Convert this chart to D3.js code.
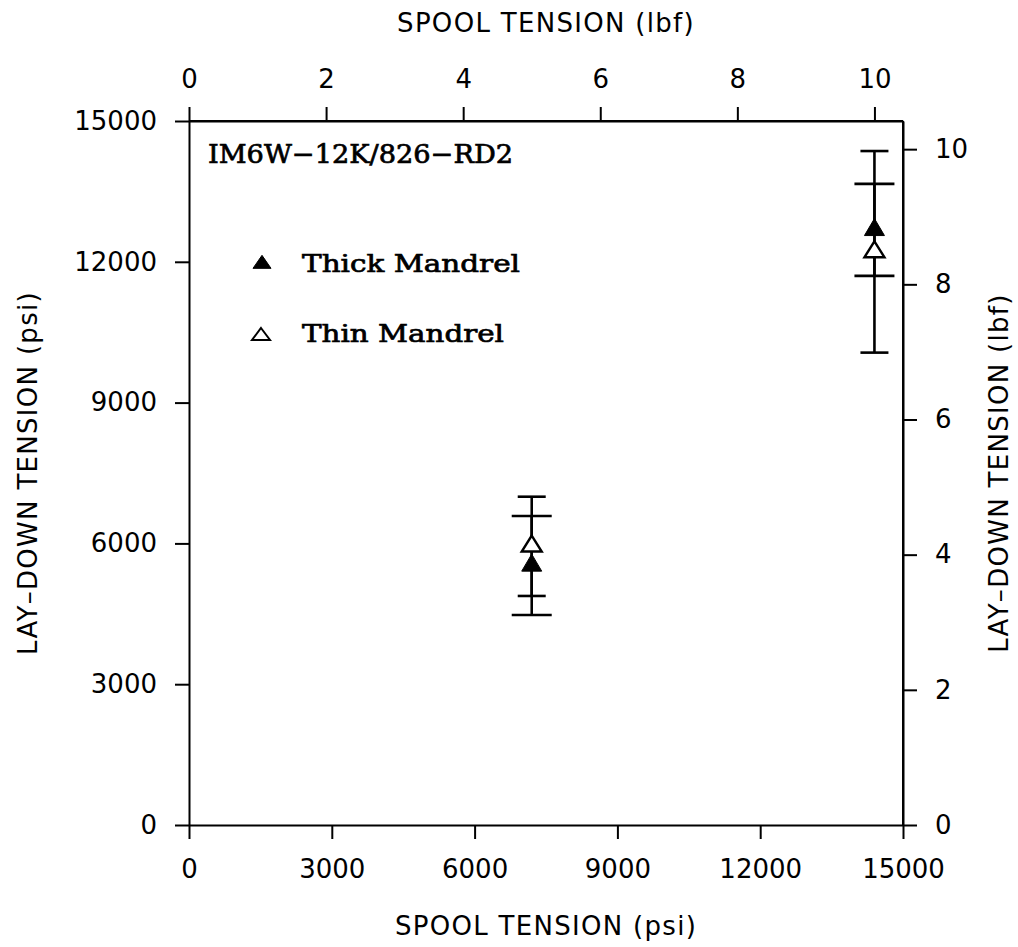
<!DOCTYPE html>
<html>
  <head>
    <title>Lay-down vs spool tension</title>
    <script src="https://d3js.org/d3.v7.min.js"></script>
    <style>
      body, html {
        margin: 0;
        padding: 0;
        background: #fff;
        overflow: hidden;
      }
      .axis text {
        font-family: 'DejaVu Sans', sans-serif;
        font-size: 26px;
        fill: #000;
      }
      .axis path, .axis line {
        stroke: #000;
        stroke-width: 2px;
      }
      .axisTitle {
        font-family: 'DejaVu Sans', sans-serif;
        font-size: 26px;
        letter-spacing: 1.3px;
        fill: #000;
      }
      .serifText {
        font-family: 'DejaVu Serif', serif;
        fill: #000;
        stroke: #000;
        stroke-width: 0.7px;
      }
      .errBar {
        stroke: #000;
        stroke-width: 2.6px;
        fill: none;
      }
    </style>
  </head>
  <body>
    <svg id="chart" width="1018" height="947"></svg>
    <script>
      // values
      const spoolPsi = [7200, 14400];
      const thickMid = [5530, 12680];
      const thickLow = [4475, 11700];
      const thickHigh = [6585, 13660];
      const thinMid = [5940, 12210];
      const thinLow = [4880, 10065];
      const thinHigh = [6995, 14360];

      const psiTicks = [0, 3000, 6000, 9000, 12000, 15000];
      const lbfTicks = [0, 2, 4, 6, 8, 10];
      const psiPerLbf = 1440;

      const svg = d3.select("#chart");
      const plotLeft = 189, plotRight = 903, plotTop = 121, plotBottom = 825;

      const x = d3.scaleLinear().domain([0, 15000]).range([plotLeft, plotRight]);
      const y = d3.scaleLinear().domain([0, 15000]).range([plotBottom, plotTop]);
      const xLbf = d3.scaleLinear().domain([0, 15000 / psiPerLbf]).range([plotLeft, plotRight]);
      const yLbf = d3.scaleLinear().domain([0, 15000 / psiPerLbf]).range([plotBottom, plotTop]);

      svg.append("g").attr("class", "axis")
        .attr("transform", `translate(0,${plotBottom})`)
        .call(d3.axisBottom(x).tickValues(psiTicks).tickFormat(d3.format("d"))
          .tickSize(14).tickSizeOuter(0).tickPadding(21));
      svg.append("g").attr("class", "axis")
        .attr("transform", `translate(${plotLeft},0)`)
        .call(d3.axisLeft(y).tickValues(psiTicks).tickFormat(d3.format("d"))
          .tickSize(14).tickSizeOuter(0).tickPadding(18));
      svg.append("g").attr("class", "axis")
        .attr("transform", `translate(0,${plotTop})`)
        .call(d3.axisTop(xLbf).tickValues(lbfTicks).tickFormat(d3.format("d"))
          .tickSize(14).tickSizeOuter(0).tickPadding(19));
      svg.append("g").attr("class", "axis")
        .attr("transform", `translate(${plotRight},0)`)
        .call(d3.axisRight(yLbf).tickValues(lbfTicks).tickFormat(d3.format("d"))
          .tickSize(14).tickSizeOuter(0).tickPadding(18));

      // close the frame
      svg.append("line").attr("x1", plotLeft).attr("x2", plotRight).attr("y1", plotTop).attr("y2", plotTop)
        .attr("stroke", "#000").attr("stroke-width", 2);
      svg.append("line").attr("x1", plotRight).attr("x2", plotRight).attr("y1", plotTop).attr("y2", plotBottom)
        .attr("stroke", "#000").attr("stroke-width", 2);

      // axis titles
      svg.append("text").attr("class", "axisTitle")
        .attr("x", 546).attr("y", 32).attr("text-anchor", "middle")
        .text("SPOOL TENSION (lbf)");
      svg.append("text").attr("class", "axisTitle")
        .attr("x", 546).attr("y", 935).attr("text-anchor", "middle")
        .text("SPOOL TENSION (psi)");
      svg.append("text").attr("class", "axisTitle")
        .attr("transform", `translate(37,${(plotTop + plotBottom) / 2}) rotate(-90)`)
        .attr("text-anchor", "middle")
        .text("LAY\u2013DOWN TENSION (psi)");
      svg.append("text").attr("class", "axisTitle")
        .attr("transform", `translate(1008,${(plotTop + plotBottom) / 2}) rotate(-90)`)
        .attr("text-anchor", "middle")
        .text("LAY\u2013DOWN TENSION (lbf)");

      function triangle(cx, cy, w, h) {
        return `M${cx},${cy - h * 2 / 3}L${cx + w / 2},${cy + h / 3}L${cx - w / 2},${cy + h / 3}Z`;
      }

      function drawSeries(low, high, capHalf) {
        const g = svg.append("g");
        spoolPsi.forEach((s, i) => {
          const cx = x(s);
          g.append("line").attr("class", "errBar")
            .attr("x1", cx).attr("x2", cx).attr("y1", y(low[i])).attr("y2", y(high[i]));
          [low[i], high[i]].forEach(v => {
            g.append("line").attr("class", "errBar")
              .attr("x1", cx - capHalf).attr("x2", cx + capHalf)
              .attr("y1", y(v)).attr("y2", y(v));
          });
        });
        return g;
      }

      drawSeries(thickLow, thickHigh, 20);
      drawSeries(thinLow, thinHigh, 14);

      // markers on top of the bars
      svg.append("g").selectAll("path")
        .data(spoolPsi.map((s, i) => [s, thinMid[i]]))
        .join("path")
        .attr("d", d => triangle(x(d[0]), y(d[1]), 20, 16))
        .attr("fill", "#fff").attr("stroke", "#000").attr("stroke-width", 2.4);
      svg.append("g").selectAll("path")
        .data(spoolPsi.map((s, i) => [s, thickMid[i]]))
        .join("path")
        .attr("d", d => triangle(x(d[0]), y(d[1]), 20, 17))
        .attr("fill", "#000").attr("stroke", "#000").attr("stroke-width", 1);

      // label and legend
      svg.append("text").attr("class", "serifText")
        .attr("x", 208).attr("y", 163).attr("font-size", 26)
        .attr("textLength", 305).attr("lengthAdjust", "spacingAndGlyphs")
        .text("IM6W\u221212K/826\u2212RD2");

      const legend = svg.append("g");
      legend.append("path").attr("d", triangle(262, 264, 18, 13))
        .attr("fill", "#000").attr("stroke", "#000").attr("stroke-width", 1);
      legend.append("path").attr("d", triangle(261, 336, 18, 12))
        .attr("fill", "#fff").attr("stroke", "#000").attr("stroke-width", 2);
      legend.append("text").attr("class", "serifText")
        .attr("x", 302).attr("y", 272).attr("font-size", 24)
        .attr("textLength", 218).attr("lengthAdjust", "spacingAndGlyphs")
        .text("Thick Mandrel");
      legend.append("text").attr("class", "serifText")
        .attr("x", 302).attr("y", 342).attr("font-size", 24)
        .attr("textLength", 202).attr("lengthAdjust", "spacingAndGlyphs")
        .text("Thin Mandrel");
    </script>
  </body>
</html>
